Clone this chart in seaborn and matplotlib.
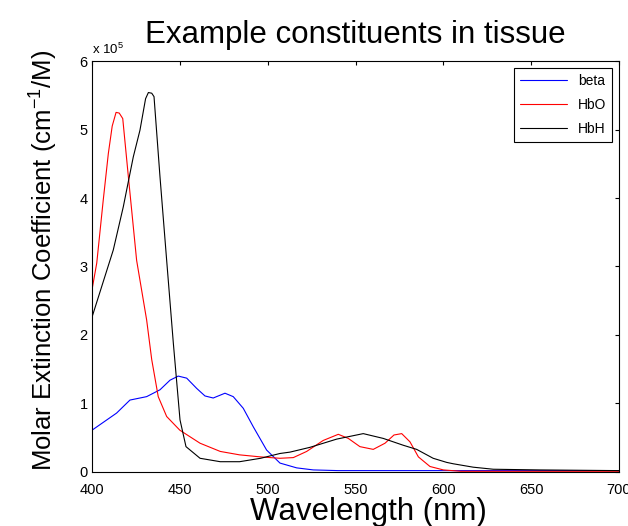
import numpy as np
import pandas as pd
import matplotlib
matplotlib.use("Agg")
import matplotlib.pyplot as plt
import seaborn as sns

# values in units of 1e5 cm^-1/M
wl_beta = [400, 408.4, 414, 421.6, 431.1, 438.7, 444.4, 449.1, 453.9, 459.6, 464.3, 469,
           475.7, 480.4, 486.1, 491.8, 499.4, 507, 516.5, 526, 540, 600, 650, 700]
beta = [0.61, 0.76, 0.86, 1.05, 1.10, 1.20, 1.34, 1.40, 1.37, 1.22, 1.11, 1.08,
        1.15, 1.10, 0.93, 0.66, 0.32, 0.13, 0.06, 0.03, 0.02, 0.02, 0.02, 0.02]

wl_hbo = [400, 402.7, 406.4, 409.3, 411.5, 413.7, 415.5, 417.5, 420.7, 425.4, 431.1, 434,
          437.7, 442.5, 450, 461.5, 473, 484, 496, 507, 514.6, 522.2, 531.6, 540.2, 545.9,
          552.5, 560.1, 566.8, 571.9, 576.3, 581, 585.8, 592.4, 600, 610, 650, 700]
hbo = [2.66, 3.05, 3.97, 4.65, 5.05, 5.25, 5.24, 5.16, 4.31, 3.09, 2.22, 1.64,
       1.10, 0.81, 0.61, 0.42, 0.30, 0.25, 0.22, 0.20, 0.21, 0.30, 0.46, 0.55, 0.49,
       0.37, 0.33, 0.42, 0.54, 0.56, 0.44, 0.22, 0.08, 0.03, 0.01, 0.01, 0.01]

wl_hbh = [400, 412.1, 417.8, 423.5, 427.3, 430.5, 432.1, 434, 435.3, 438.7, 442.5, 446.3,
          450.1, 453.5, 461.5, 473, 484, 496, 507, 512.7, 524.1, 539.3, 554.4, 565.8,
          577.2, 584.8, 594.2, 601.9, 605.6, 617, 628.4, 655, 700]
hbh = [2.26, 3.24, 3.87, 4.60, 4.99, 5.45, 5.54, 5.53, 5.48, 4.31, 3.09, 1.88,
       0.76, 0.37, 0.20, 0.15, 0.15, 0.20, 0.27, 0.29, 0.36, 0.48, 0.56, 0.49,
       0.39, 0.33, 0.20, 0.14, 0.12, 0.07, 0.04, 0.03, 0.02]

sns.set_theme(style="white")
plt.rcParams['font.family'] = ['Liberation Sans', 'DejaVu Sans']
plt.rcParams['mathtext.fontset'] = 'custom'
plt.rcParams['mathtext.rm'] = 'Liberation Sans'
plt.rcParams['mathtext.it'] = 'Liberation Sans'
plt.rcParams['text.color'] = 'black'
plt.rcParams['axes.labelcolor'] = 'black'

fig = plt.figure(figsize=(6.28, 5.26), dpi=100)
ax = fig.add_axes([0.1465, 0.1027, 0.8392, 0.7813])

sns.lineplot(x=wl_beta, y=beta, color='blue', lw=0.8, label='beta', ax=ax)
sns.lineplot(x=wl_hbo, y=hbo, color='red', lw=0.8, label='HbO', ax=ax)
sns.lineplot(x=wl_hbh, y=hbh, color='black', lw=0.8, label='HbH', ax=ax)

ax.set_xlim(400, 700)
ax.set_ylim(0, 6)
ax.set_xticks([400, 450, 500, 550, 600, 650, 700])
ax.set_yticks([0, 1, 2, 3, 4, 5, 6])
ax.tick_params(direction='in', length=3, width=0.8, labelsize=10.5, colors='black',
               top=True, right=True)
ax.tick_params(axis='x', pad=8)
ax.tick_params(axis='y', pad=3)
for s in ax.spines.values():
    s.set_color('black')
    s.set_linewidth(0.8)

ax.set_title("Example constituents in tissue", fontsize=22.5, pad=13, color='black')
ax.set_xlabel("Wavelength (nm)", fontsize=22.5, labelpad=0)
ax.xaxis.label.set_x(0.525)
ax.set_ylabel("Molar Extinction Coefficient (cm$^{\\mathrm{-1}}$/M)", fontsize=18.5)
ax.yaxis.set_label_coords(-0.061, 0.515)
ax.text(0, 1.01, r"x 10$^5$", transform=ax.transAxes, fontsize=9.5, ha='left', va='bottom')

leg = ax.legend(loc='upper right', fontsize=10, frameon=True, fancybox=False,
                handlelength=3.4, borderaxespad=0.5, labelspacing=0.75)
leg.get_frame().set_edgecolor('black')
leg.get_frame().set_linewidth(0.8)
leg.get_frame().set_alpha(1)
for t in leg.get_texts():
    t.set_color('black')

fig.savefig("out.png", dpi=100)
